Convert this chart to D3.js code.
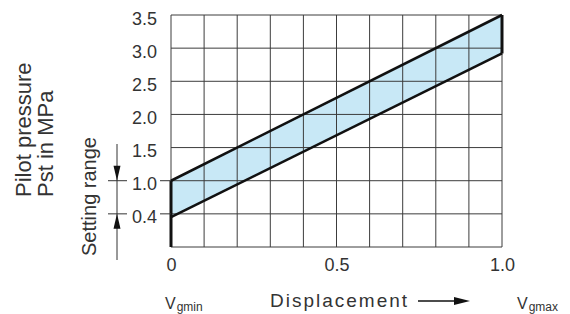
<!DOCTYPE html>
<html>
<head>
<meta charset="utf-8">
<script src="https://cdn.jsdelivr.net/npm/d3@7"></script>
<style>
  body { margin: 0; background: #fff; }
  svg { display: block; font-family: "Liberation Sans", Arial, sans-serif; }
</style>
</head>
<body>
<svg id="chart" width="570" height="314"></svg>
<script>
// displacement axis
var xTicks = [0, 0.5, 1.0];
var xLabels = ["0", "0.5", "1.0"];
var xGrid = [0, 0.1, 0.2, 0.3, 0.4, 0.5, 0.6, 0.7, 0.8, 0.9, 1.0];

// pressure axis (the row at 0.5 is labelled 0.4 in the original)
var yTicks = [0.5, 1.0, 1.5, 2.0, 2.5, 3.0, 3.5];
var yLabels = ["0.4", "1.0", "1.5", "2.0", "2.5", "3.0", "3.5"];
var yGrid = [0, 0.5, 1.0, 1.5, 2.0, 2.5, 3.0, 3.5];
var markedTicks = [0.5, 1.0];

// setting band
var bandX = [0, 1.0];
var bandUpper = [1.0, 3.5];
var bandLower = [0.45, 2.92];

var svg = d3.select("#chart");

var x = d3.scaleLinear().domain([0, 1]).range([171, 502]);
var y = d3.scaleLinear().domain([0, 3.5]).range([247, 15]);

var ink = "#333";

// band fill
var band = bandX.map(function (d, i) {
    return { x: d, lo: bandLower[i], hi: bandUpper[i] };
});

svg.append("path")
    .datum(band)
    .attr("fill", "#c8e8f6")
    .attr("d", d3.area()
        .x(function (d) { return x(d.x); })
        .y0(function (d) { return y(d.lo); })
        .y1(function (d) { return y(d.hi); }));

// grid
svg.append("g").selectAll("line")
    .data(xGrid).enter().append("line")
    .attr("x1", function (d) { return x(d); })
    .attr("x2", function (d) { return x(d); })
    .attr("y1", y(0))
    .attr("y2", y(3.5))
    .attr("stroke", "#3c3c3c")
    .attr("stroke-width", 1);

svg.append("g").selectAll("line")
    .data(yGrid).enter().append("line")
    .attr("x1", x(0))
    .attr("x2", x(1))
    .attr("y1", function (d) { return y(d); })
    .attr("y2", function (d) { return y(d); })
    .attr("stroke", "#3c3c3c")
    .attr("stroke-width", 1);

// band edges
["hi", "lo"].forEach(function (key) {
    svg.append("path")
        .datum(band)
        .attr("fill", "none")
        .attr("stroke", "#111")
        .attr("stroke-width", 2.6)
        .attr("d", d3.line()
            .x(function (d) { return x(d.x); })
            .y(function (d) { return y(d[key]); }));
});

svg.append("line")
    .attr("x1", x(0)).attr("x2", x(0))
    .attr("y1", y(0)).attr("y2", y(bandUpper[0]))
    .attr("stroke", "#111").attr("stroke-width", 3);

svg.append("line")
    .attr("x1", x(1)).attr("x2", x(1))
    .attr("y1", y(bandLower[1])).attr("y2", y(bandUpper[1]))
    .attr("stroke", "#111").attr("stroke-width", 3);

// y axis labels
var yAxis = svg.append("g")
    .attr("transform", "translate(" + x(0) + ",0)")
    .call(d3.axisLeft(y)
        .tickValues(yTicks)
        .tickFormat(function (d, i) { return yLabels[i]; })
        .tickSize(0)
        .tickPadding(14));
yAxis.select(".domain").remove();
yAxis.selectAll("text")
    .attr("font-size", 18)
    .attr("font-family", "Liberation Sans, Arial, sans-serif")
    .attr("fill", ink)
    .attr("dy", "0.5em");

// x axis labels
var xAxis = svg.append("g")
    .attr("transform", "translate(0," + y(0) + ")")
    .call(d3.axisBottom(x)
        .tickValues(xTicks)
        .tickFormat(function (d, i) { return xLabels[i]; })
        .tickSize(0)
        .tickPadding(11));
xAxis.select(".domain").remove();
xAxis.selectAll("text")
    .attr("font-size", 18)
    .attr("font-family", "Liberation Sans, Arial, sans-serif")
    .attr("fill", ink);

// setting range marks
svg.append("g").selectAll("line")
    .data(markedTicks).enter().append("line")
    .attr("x1", x(0) - 11).attr("x2", x(0))
    .attr("y1", function (d) { return y(d); })
    .attr("y2", function (d) { return y(d); })
    .attr("stroke", ink);

svg.append("g").selectAll("line")
    .data(markedTicks).enter().append("line")
    .attr("x1", 108).attr("x2", 127)
    .attr("y1", function (d) { return y(d); })
    .attr("y2", function (d) { return y(d); })
    .attr("stroke", ink);

svg.append("line")
    .attr("x1", 117).attr("x2", 117)
    .attr("y1", 144).attr("y2", 260)
    .attr("stroke", ink);

var ah = 15, aw = 3.5;
svg.append("path")
    .attr("fill", "#111")
    .attr("d", "M117," + y(1.0) + "l" + (-aw) + "," + (-ah) + "h" + (2 * aw) + "z");
svg.append("path")
    .attr("fill", "#111")
    .attr("d", "M117," + y(0.5) + "l" + (-aw) + "," + ah + "h" + (2 * aw) + "z");

// titles
svg.append("text")
    .attr("transform", "translate(31,197) rotate(-90)")
    .attr("font-size", 22)
    .attr("fill", ink)
    .text("Pilot pressure");

svg.append("text")
    .attr("transform", "translate(53,197) rotate(-90)")
    .attr("font-size", 22)
    .attr("fill", ink)
    .text("Pst in MPa");

svg.append("text")
    .attr("transform", "translate(96,256) rotate(-90)")
    .attr("font-size", 20)
    .attr("fill", ink)
    .text("Setting range");

svg.append("text")
    .attr("x", 270).attr("y", 307)
    .attr("font-size", 19)
    .attr("letter-spacing", 2)
    .attr("fill", ink)
    .text("Displacement");

svg.append("line")
    .attr("x1", 418).attr("x2", 456)
    .attr("y1", 301).attr("y2", 301)
    .attr("stroke", "#111").attr("stroke-width", 1.5);
svg.append("path")
    .attr("fill", "#111")
    .attr("d", "M470,301l-16,-4v8z");

function vLabel(px, sub) {
    var t = svg.append("text")
        .attr("x", px).attr("y", 309)
        .attr("font-size", 16)
        .attr("fill", ink);
    t.append("tspan").text("V");
    t.append("tspan")
        .attr("font-size", 12)
        .attr("dy", 2)
        .attr("dx", 1)
        .text(sub);
}
vLabel(165, "gmin");
vLabel(517, "gmax");
</script>
</body>
</html>
